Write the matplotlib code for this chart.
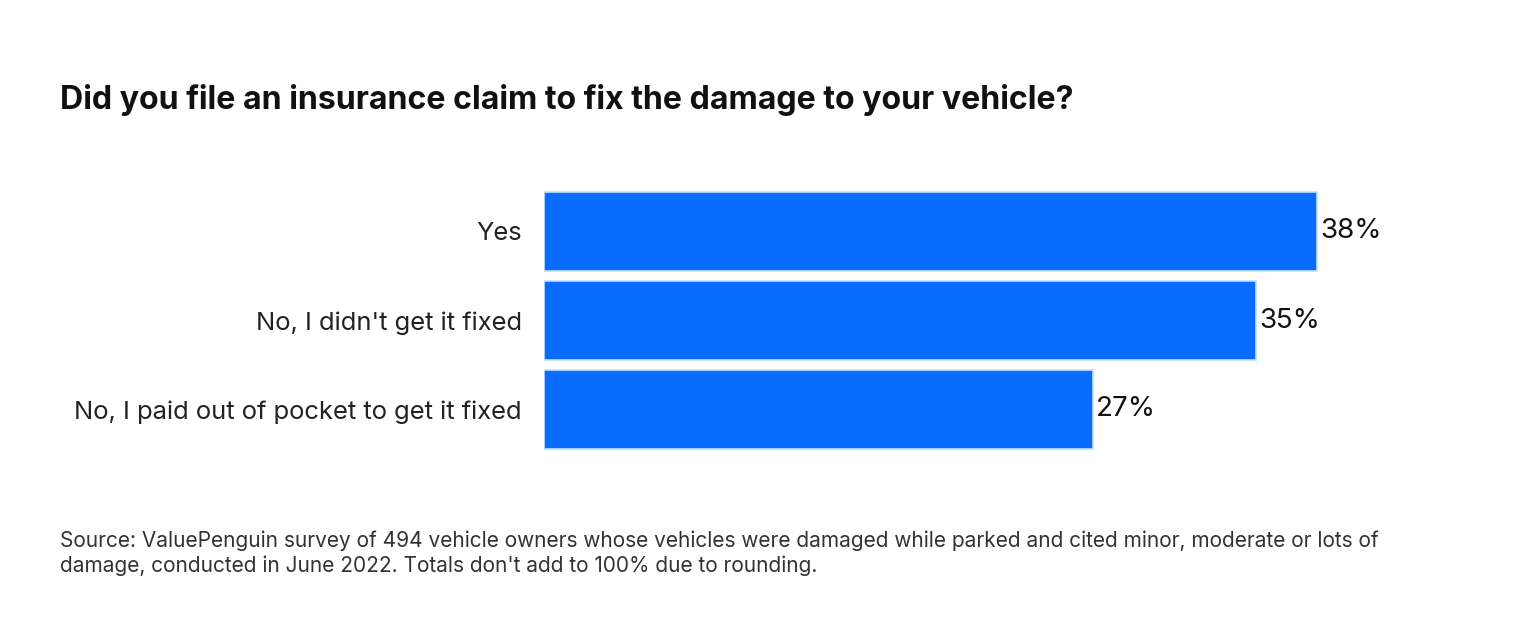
import matplotlib
matplotlib.use("Agg")
import matplotlib.pyplot as plt

categories = ["Yes", "No, I didn't get it fixed", "No, I paid out of pocket to get it fixed"]
values = [38, 35, 27]
labels = ["38%", "35%", "27%"]

fig = plt.figure(figsize=(15.2, 6.42), dpi=100)
ax = fig.add_axes([544/1520, 1-454/642, 813.6/1520, 267/642])
y = list(range(len(categories)))
ax.barh(y, values, height=0.89, color="#0a6cff", edgecolor="#bfe0ff", linewidth=1.2)
ax.set_xlim(0, 40)
ax.set_ylim(2.5, -0.5)
ax.set_yticks(y)
ax.set_yticklabels(categories, fontsize=18.4, color="#222222", fontfamily="Inter")
ax.tick_params(axis="y", length=0, pad=16)
ax.set_xticks([])
for s in ax.spines.values():
    s.set_visible(False)
for yi, v, l in zip(y, values, labels):
    ax.text(v + 0.15, yi, l, va="center", ha="left", fontsize=20, color="#111111", fontfamily="Inter")

fig.text(60/1520, 1-100/642, "Did you file an insurance claim to fix the damage to your vehicle?",
         fontsize=23.1, fontweight="bold", fontfamily="Inter", va="center", color="#111111")
fig.text(60/1520, 1-541/642, "Source: ValuePenguin survey of 494 vehicle owners whose vehicles were damaged while parked and cited minor, moderate or lots of",
         fontsize=15, fontfamily="Inter", va="center", color="#333333")
fig.text(60/1520, 1-566/642, "damage, conducted in June 2022. Totals don't add to 100% due to rounding.",
         fontsize=15, fontfamily="Inter", va="center", color="#333333")
fig.savefig("out.png", dpi=100, facecolor="white")
